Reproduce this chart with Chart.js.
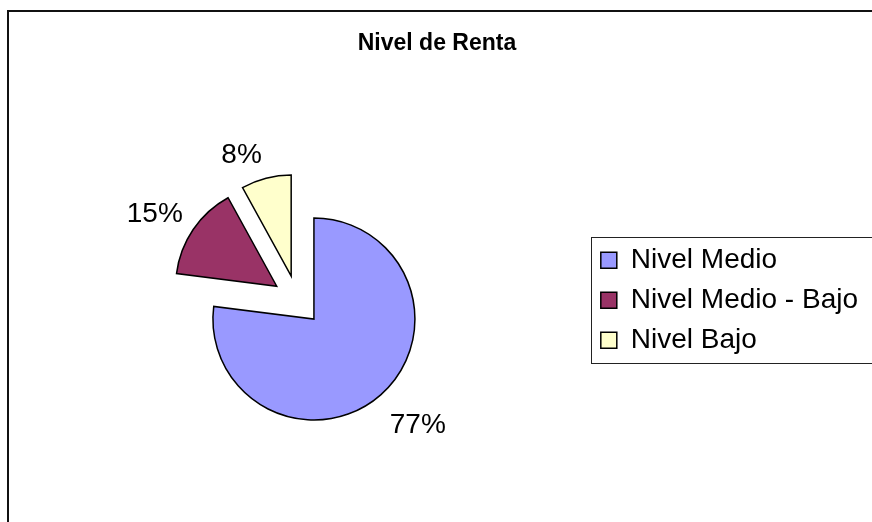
<!DOCTYPE html>
<html>
<head>
<meta charset="utf-8">
<script src="https://cdn.jsdelivr.net/npm/chart.js@4"></script>
<style>
  html, body { margin: 0; padding: 0; background: #fff; overflow: hidden; }
  #wrap { position: relative; width: 872px; height: 522px; }
</style>
</head>
<body>
<div id="wrap"><canvas id="c"></canvas></div>
<script>
const titleText = 'Nivel de Renta';
const categories = ['Nivel Medio', 'Nivel Medio - Bajo', 'Nivel Bajo'];
const values = [77, 15, 8];
const colors = ['#9999FF', '#993366', '#FFFFCC'];

const FONT = "'Liberation Sans', Arial, sans-serif";

// Excel-style explosion: every slice pushed out along its mid-angle
const explodePlugin = {
  id: 'explode',
  afterDatasetsUpdate(chart, args, opts) {
    const meta = chart.getDatasetMeta(0);
    meta.data.forEach(arc => {
      const mid = (arc.startAngle + arc.endAngle) / 2;
      arc.x += Math.cos(mid) * opts.distance;
      arc.y += Math.sin(mid) * opts.distance;
    });
  }
};

// Percentage labels outside the slice ends
const pctLabels = {
  id: 'pctLabels',
  afterDatasetsDraw(chart, args, opts) {
    const ctx = chart.ctx;
    const meta = chart.getDatasetMeta(0);
    const data = chart.data.datasets[0].data;
    const total = data.reduce((a, b) => a + b, 0);
    ctx.save();
    ctx.font = opts.font;
    ctx.fillStyle = '#000';
    ctx.textAlign = 'center';
    ctx.textBaseline = 'middle';
    meta.data.forEach((arc, i) => {
      const txt = Math.round(data[i] / total * 100) + '%';
      const mid = (arc.startAngle + arc.endAngle) / 2;
      const dx = Math.cos(mid), dy = Math.sin(mid);
      const w = ctx.measureText(txt).width;
      const h = opts.textHeight;
      const d = arc.outerRadius + opts.gap;
      const n = opts.nudge[i] || [0, 0];
      const x = arc.x + dx * d + dx * w / 2 + n[0];
      const y = arc.y + dy * d + dy * h / 2 + n[1];
      ctx.fillText(txt, x, y);
    });
    ctx.restore();
  }
};

// Chart frame (top/left visible) and legend frame
const frames = {
  id: 'frames',
  beforeDraw(chart) {
    const ctx = chart.ctx;
    ctx.save();
    ctx.strokeStyle = '#111';
    ctx.lineWidth = 2;
    ctx.strokeRect(8, 11, chart.width + 20, chart.height + 20);
    ctx.restore();
  },
  afterDraw(chart) {
    const lg = chart.legend;
    if (!lg || !lg.legendHitBoxes || !lg.legendHitBoxes.length) return;
    const hb = lg.legendHitBoxes;
    const first = hb[0], last = hb[hb.length - 1];
    const ctx = chart.ctx;
    ctx.save();
    ctx.strokeStyle = '#222';
    ctx.lineWidth = 1;
    const left = Math.round(first.left - 10) + 0.5;
    const top = Math.round(first.top - 9) + 0.5;
    const bottom = Math.round(last.top + last.height + 9) + 0.5;
    ctx.strokeRect(left, top, chart.width + 20 - left, bottom - top);
    ctx.restore();
  }
};

new Chart(document.getElementById('c'), {
  type: 'pie',
  data: {
    labels: categories,
    datasets: [{
      data: values,
      backgroundColor: colors,
      borderColor: '#000',
      borderWidth: 1.5,
      borderJoinStyle: 'miter',
      radius: 101
    }]
  },
  options: {
    responsive: true,
    maintainAspectRatio: false,
    animation: false,
    events: [],
    layout: { padding: { left: 6, right: 4, top: 0, bottom: 0 } },
    plugins: {
      title: {
        display: true,
        text: titleText,
        color: '#000',
        font: { family: FONT, size: 23, weight: 'bold', lineHeight: 1.2 },
        padding: { top: 30, bottom: 21 }
      },
      legend: {
        display: true,
        position: 'right',
        align: 'center',
        fullSize: false,
        labels: {
          color: '#000',
          font: { family: FONT, size: 28 },
          boxWidth: 16,
          boxHeight: 16,
          padding: 12
        }
      },
      tooltip: { enabled: false },
      explode: { distance: 25 },
      pctLabels: { font: "28px " + FONT, gap: 22, textHeight: 20,
                   nudge: [[4, 6], [3, 3], [-14, 8]] }
    }
  },
  plugins: [explodePlugin, pctLabels, frames]
});
</script>
</body>
</html>
